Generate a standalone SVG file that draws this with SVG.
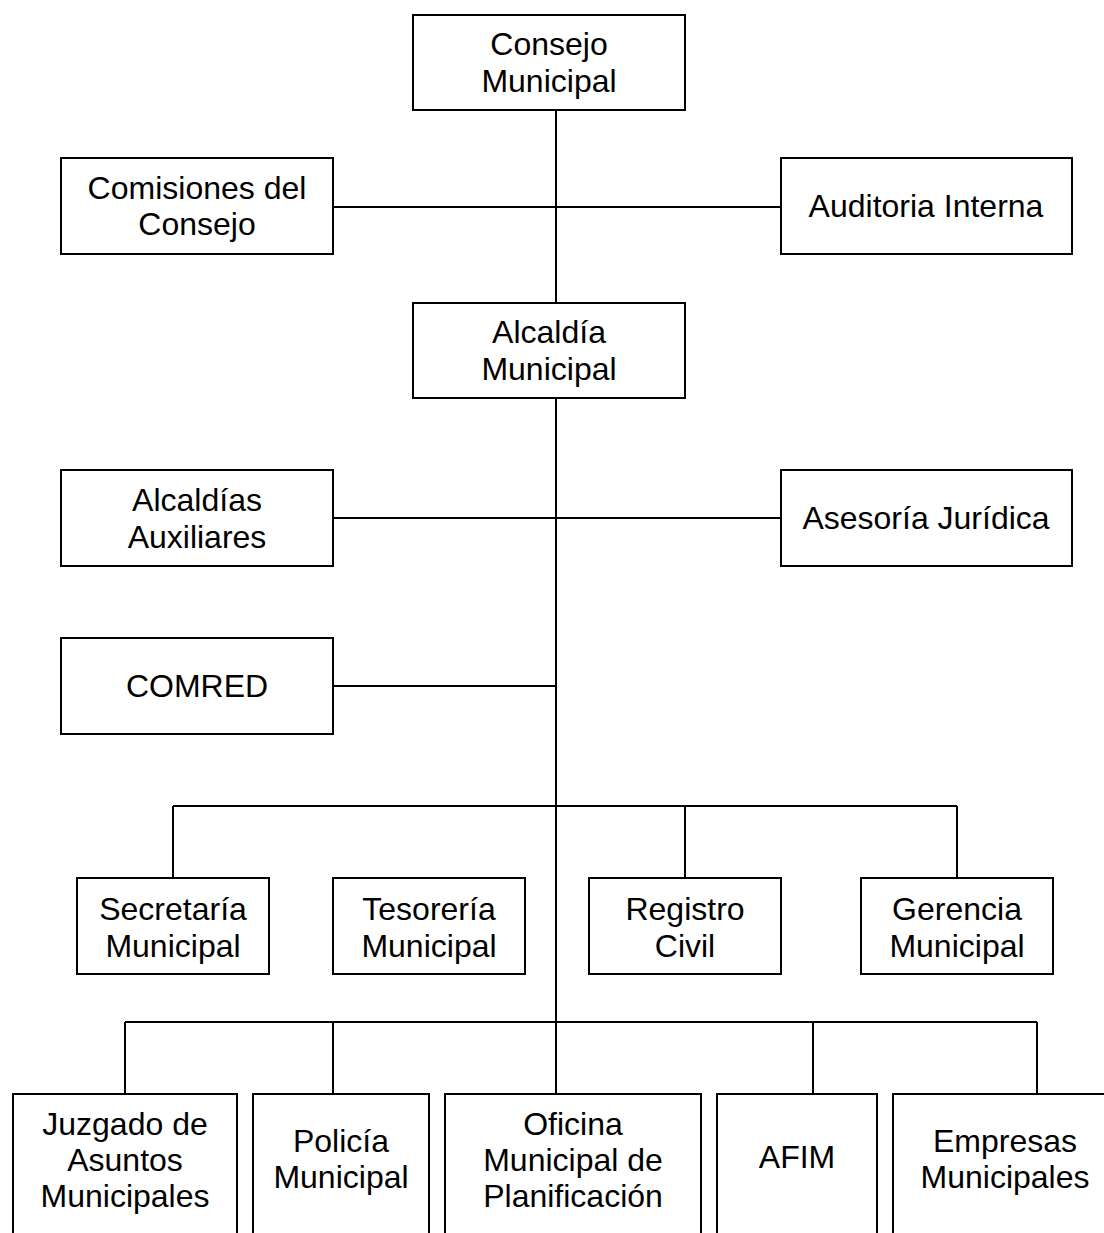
<svg xmlns="http://www.w3.org/2000/svg" width="1104" height="1233" viewBox="0 0 1104 1233">
<style>
rect{fill:#fff;stroke:#000;stroke-width:2}
text{font-family:"Liberation Sans",Arial,sans-serif;font-size:32px;fill:#000;text-anchor:middle}
.c line{stroke:#000;stroke-width:2}
</style>
<rect x="0" y="0" width="1104" height="1233" style="stroke:none"/>
<g class="c" id="connectors">
<line x1="556" y1="110" x2="556" y2="1094"/>
<line x1="333" y1="207" x2="781" y2="207"/>
<line x1="333" y1="518" x2="781" y2="518"/>
<line x1="333" y1="686" x2="556" y2="686"/>
<line x1="173" y1="806" x2="957" y2="806"/>
<line x1="173" y1="806" x2="173" y2="878"/>
<line x1="685" y1="806" x2="685" y2="878"/>
<line x1="957" y1="806" x2="957" y2="878"/>
<line x1="125" y1="1022" x2="1037" y2="1022"/>
<line x1="125" y1="1022" x2="125" y2="1094"/>
<line x1="333" y1="1022" x2="333" y2="1094"/>
<line x1="813" y1="1022" x2="813" y2="1094"/>
<line x1="1037" y1="1022" x2="1037" y2="1094"/>
</g>
<g id="consejo"><rect x="413" y="15" width="272" height="95"/><text x="549" y="55">Consejo</text><text x="549" y="92">Municipal</text></g>
<g id="comisiones"><rect x="61" y="158" width="272" height="96"/><text x="197" y="199">Comisiones del</text><text x="197" y="235">Consejo</text></g>
<g id="auditoria"><rect x="781" y="158" width="291" height="96"/><text x="926" y="217">Auditoria Interna</text></g>
<g id="alcaldia"><rect x="413" y="303" width="272" height="95"/><text x="549" y="343">Alcaldía</text><text x="549" y="380">Municipal</text></g>
<g id="auxiliares"><rect x="61" y="470" width="272" height="96"/><text x="197" y="511">Alcaldías</text><text x="197" y="548">Auxiliares</text></g>
<g id="asesoria"><rect x="781" y="470" width="291" height="96"/><text x="926" y="529">Asesoría Jurídica</text></g>
<g id="comred"><rect x="61" y="638" width="272" height="96"/><text x="197" y="697">COMRED</text></g>
<g id="secretaria"><rect x="77" y="878" width="192" height="96"/><text x="173" y="920">Secretaría</text><text x="173" y="957">Municipal</text></g>
<g id="tesoreria"><rect x="333" y="878" width="192" height="96"/><text x="429" y="920">Tesorería</text><text x="429" y="957">Municipal</text></g>
<g id="registro"><rect x="589" y="878" width="192" height="96"/><text x="685" y="920">Registro</text><text x="685" y="957">Civil</text></g>
<g id="gerencia"><rect x="861" y="878" width="192" height="96"/><text x="957" y="920">Gerencia</text><text x="957" y="957">Municipal</text></g>
<g id="juzgado"><rect x="13" y="1094" width="224" height="160"/><text x="125" y="1135">Juzgado de</text><text x="125" y="1171">Asuntos</text><text x="125" y="1207">Municipales</text></g>
<g id="policia"><rect x="253" y="1094" width="176" height="160"/><text x="341" y="1152">Policía</text><text x="341" y="1188">Municipal</text></g>
<g id="oficina"><rect x="445" y="1094" width="256" height="160"/><text x="573" y="1135">Oficina</text><text x="573" y="1171">Municipal de</text><text x="573" y="1207">Planificación</text></g>
<g id="afim"><rect x="717" y="1094" width="160" height="160"/><text x="797" y="1168">AFIM</text></g>
<g id="empresas"><rect x="893" y="1094" width="224" height="160"/><text x="1005" y="1152">Empresas</text><text x="1005" y="1188">Municipales</text></g>
</svg>
